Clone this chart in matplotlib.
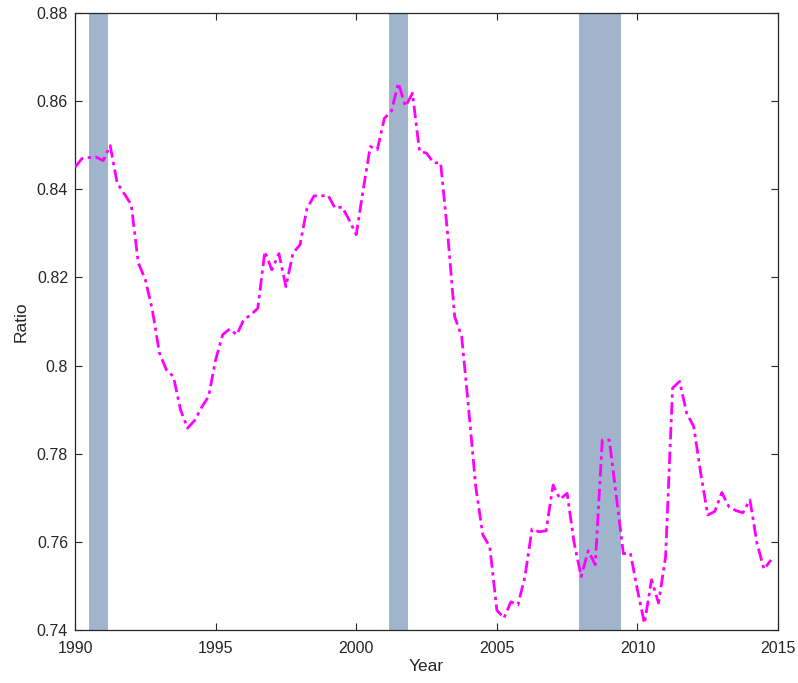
import numpy as np
import matplotlib
matplotlib.use("Agg")
import matplotlib.pyplot as plt
from matplotlib.ticker import FuncFormatter, MultipleLocator

# quarterly ratio, 1990Q1 .. 2014Q4
years = np.arange(1990, 2015, 0.25)
ratio = [
    0.8450, 0.8470, 0.8472, 0.8473,
    0.8465, 0.8499, 0.8414, 0.8390,
    0.8365, 0.8233, 0.8195, 0.8126,
    0.8029, 0.7990, 0.7975, 0.7900,
    0.7858, 0.7875, 0.7905, 0.7930,
    0.8013, 0.8070, 0.8083, 0.8070,
    0.8104, 0.8115, 0.8130, 0.8259,
    0.8217, 0.8254, 0.8179, 0.8255,
    0.8274, 0.8357, 0.8385, 0.8385,
    0.8386, 0.8357, 0.8360, 0.8330,
    0.8297, 0.8400, 0.8497, 0.8490,
    0.8561, 0.8577, 0.8641, 0.8588,
    0.8618, 0.8486, 0.8482, 0.8460,
    0.8460, 0.8300, 0.8111, 0.8066,
    0.7900, 0.7725, 0.7616, 0.7589,
    0.7445, 0.7427, 0.7464, 0.7457,
    0.7521, 0.7629, 0.7623, 0.7625,
    0.7729, 0.7697, 0.7710, 0.7597,
    0.7521, 0.7580, 0.7548, 0.7831,
    0.7831, 0.7703, 0.7573, 0.7574,
    0.7491, 0.7415, 0.7514, 0.7461,
    0.7566, 0.7949, 0.7964, 0.7892,
    0.7862, 0.7756, 0.7661, 0.7669,
    0.7712, 0.7680, 0.7671, 0.7666,
    0.7695, 0.7597, 0.7538, 0.7559,
]

# NBER recessions
rec_start = [1990.50, 2001.17, 2007.92]
rec_end = [1991.17, 2001.83, 2009.42]

plt.rcParams['font.family'] = ['Liberation Sans', 'DejaVu Sans']

fig = plt.figure(figsize=(7.98, 6.83), dpi=100)
ax = fig.add_axes([0.094, 0.0776, 0.881, 0.9034])

for s, e in zip(rec_start, rec_end):
    ax.axvspan(s, e, color='#a0b4cb', lw=0, zorder=1)

ax.plot(years, ratio, color='#ff00ff', lw=2.0,
        linestyle=(0, (4.5, 1.6, 1.2, 1.6)), zorder=3)

ax.set_xlim(1990, 2015)
ax.set_ylim(0.74, 0.88)
ax.xaxis.set_major_locator(MultipleLocator(5))
ax.yaxis.set_major_locator(MultipleLocator(0.02))
ax.yaxis.set_major_formatter(FuncFormatter(lambda v, p: '%g' % round(v, 2)))

ax.tick_params(direction='in', top=True, right=True, length=5,
               width=0.8, color='#262626', labelsize=11.5, labelcolor='#262626')
ax.tick_params(axis='x', pad=8)
ax.tick_params(axis='y', pad=5)
for sp in ax.spines.values():
    sp.set_color('#262626')
    sp.set_linewidth(0.9)

ax.set_xlabel('Year', fontsize=12.5, color='#262626', labelpad=2)
ax.set_ylabel('Ratio', fontsize=12.5, color='#262626', labelpad=6)

fig.savefig('out.png', dpi=100)
